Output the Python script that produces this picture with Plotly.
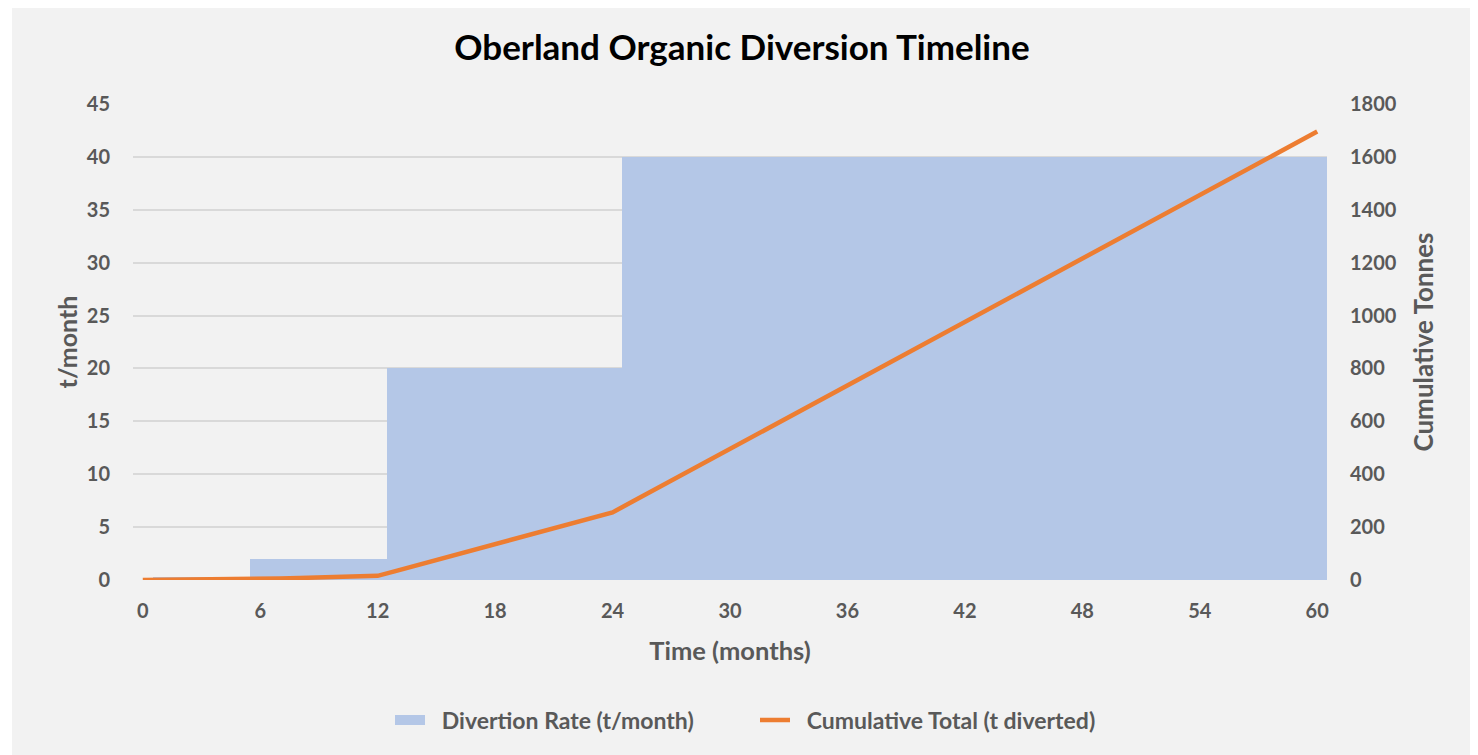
import numpy as np
import plotly.graph_objects as go

months = list(range(0, 61))
rate = [0] + [0.33] * 5 + [2] * 7 + [20] * 12 + [40] * 36
cumulative = list(np.cumsum(rate))
x_ticks = list(range(0, 61, 6))
y1_ticks = list(range(0, 46, 5))
y2_ticks = list(range(0, 1801, 200))

FONT = "Lato"
GREY = "#595959"
BLUE = "#B4C7E7"
ORANGE = "#ED7D31"
NB = "\u00a0\u00a0"

fig = go.Figure()
fig.add_trace(go.Bar(
    x=months, y=rate, name="Divertion Rate (t/month)", showlegend=False,
    marker=dict(color=BLUE, line=dict(width=0)), width=1.0,
))
# legend-only swatch for the bar series (wide rectangle like the original)
fig.add_trace(go.Scatter(
    x=[None], y=[None], mode="lines", name=NB + "<b>Divertion Rate (t/month)</b>",
    line=dict(color=BLUE, width=14),
))
fig.add_trace(go.Scatter(
    x=months, y=cumulative, name=NB + "<b>Cumulative Total (t diverted)</b>", yaxis="y2",
    mode="lines", line=dict(color=ORANGE, width=4.5),
))

# grey panel (page coords: x 12..1472, y 5..755; plot area x 133..1327, y 104..580)
px0, px1, py0, py1 = 133, 1327, 104, 580
pw, ph = px1 - px0, py1 - py0
fig.add_shape(type="rect", xref="paper", yref="paper", layer="below",
              x0=(12 - px0) / pw, x1=(1472 - px0) / pw,
              y0=(py1 - 760) / ph, y1=(py1 - 5) / ph,
              fillcolor="#F2F2F2", line=dict(width=0))

fig.update_layout(
    width=1478, height=755,
    paper_bgcolor="#FFFFFF", plot_bgcolor="#F2F2F2",
    margin=dict(l=125, r=159, t=96, b=183),
    font=dict(family=FONT, color=GREY, size=20),
    bargap=0,
    title=dict(text="<b>Oberland Organic Diversion Timeline</b>", x=(742 - px0) / pw, xanchor="center",
               xref="paper", y=1 - 40 / 755, yanchor="middle",
               font=dict(size=35, color="#000000", family=FONT)),
    xaxis=dict(range=[-0.5, 60.5], tickvals=x_ticks, ticktext=[f"<b>{t}</b>" for t in x_ticks],
               showgrid=False, zeroline=False, showline=False, ticks="",
               tickfont=dict(size=20, color=GREY), ticklabelstandoff=17,
               title=dict(text="<b>Time (months)</b>", font=dict(size=25.5, color=GREY), standoff=21)),
    yaxis=dict(range=[0, 45], tickvals=y1_ticks, ticktext=[f"<b>{t}</b>" for t in y1_ticks],
               showgrid=True, gridcolor="#D9D9D9", gridwidth=1.5, zeroline=False,
               tickfont=dict(size=20, color=GREY), ticks="", ticklabelstandoff=22,
               title=dict(text="<b>t/month</b>", font=dict(size=25, color=GREY), standoff=2)),
    yaxis2=dict(range=[0, 1800], tickvals=y2_ticks, ticktext=[f"<b>{t}</b>" for t in y2_ticks],
                overlaying="y", side="right", showgrid=False, zeroline=False,
                tickfont=dict(size=20, color=GREY), ticks="", ticklabelstandoff=22,
                title=dict(text="<b>Cumulative Tonnes</b>", font=dict(size=26, color=GREY), standoff=19)),
    legend=dict(orientation="h", x=(755 - px0) / pw, xanchor="center", y=(py1 - 720) / ph, yanchor="middle",
                font=dict(size=23, color=GREY), bgcolor="rgba(0,0,0,0)",
                traceorder="normal", entrywidth=320),
    showlegend=True,
)

fig.write_html("out.html")
